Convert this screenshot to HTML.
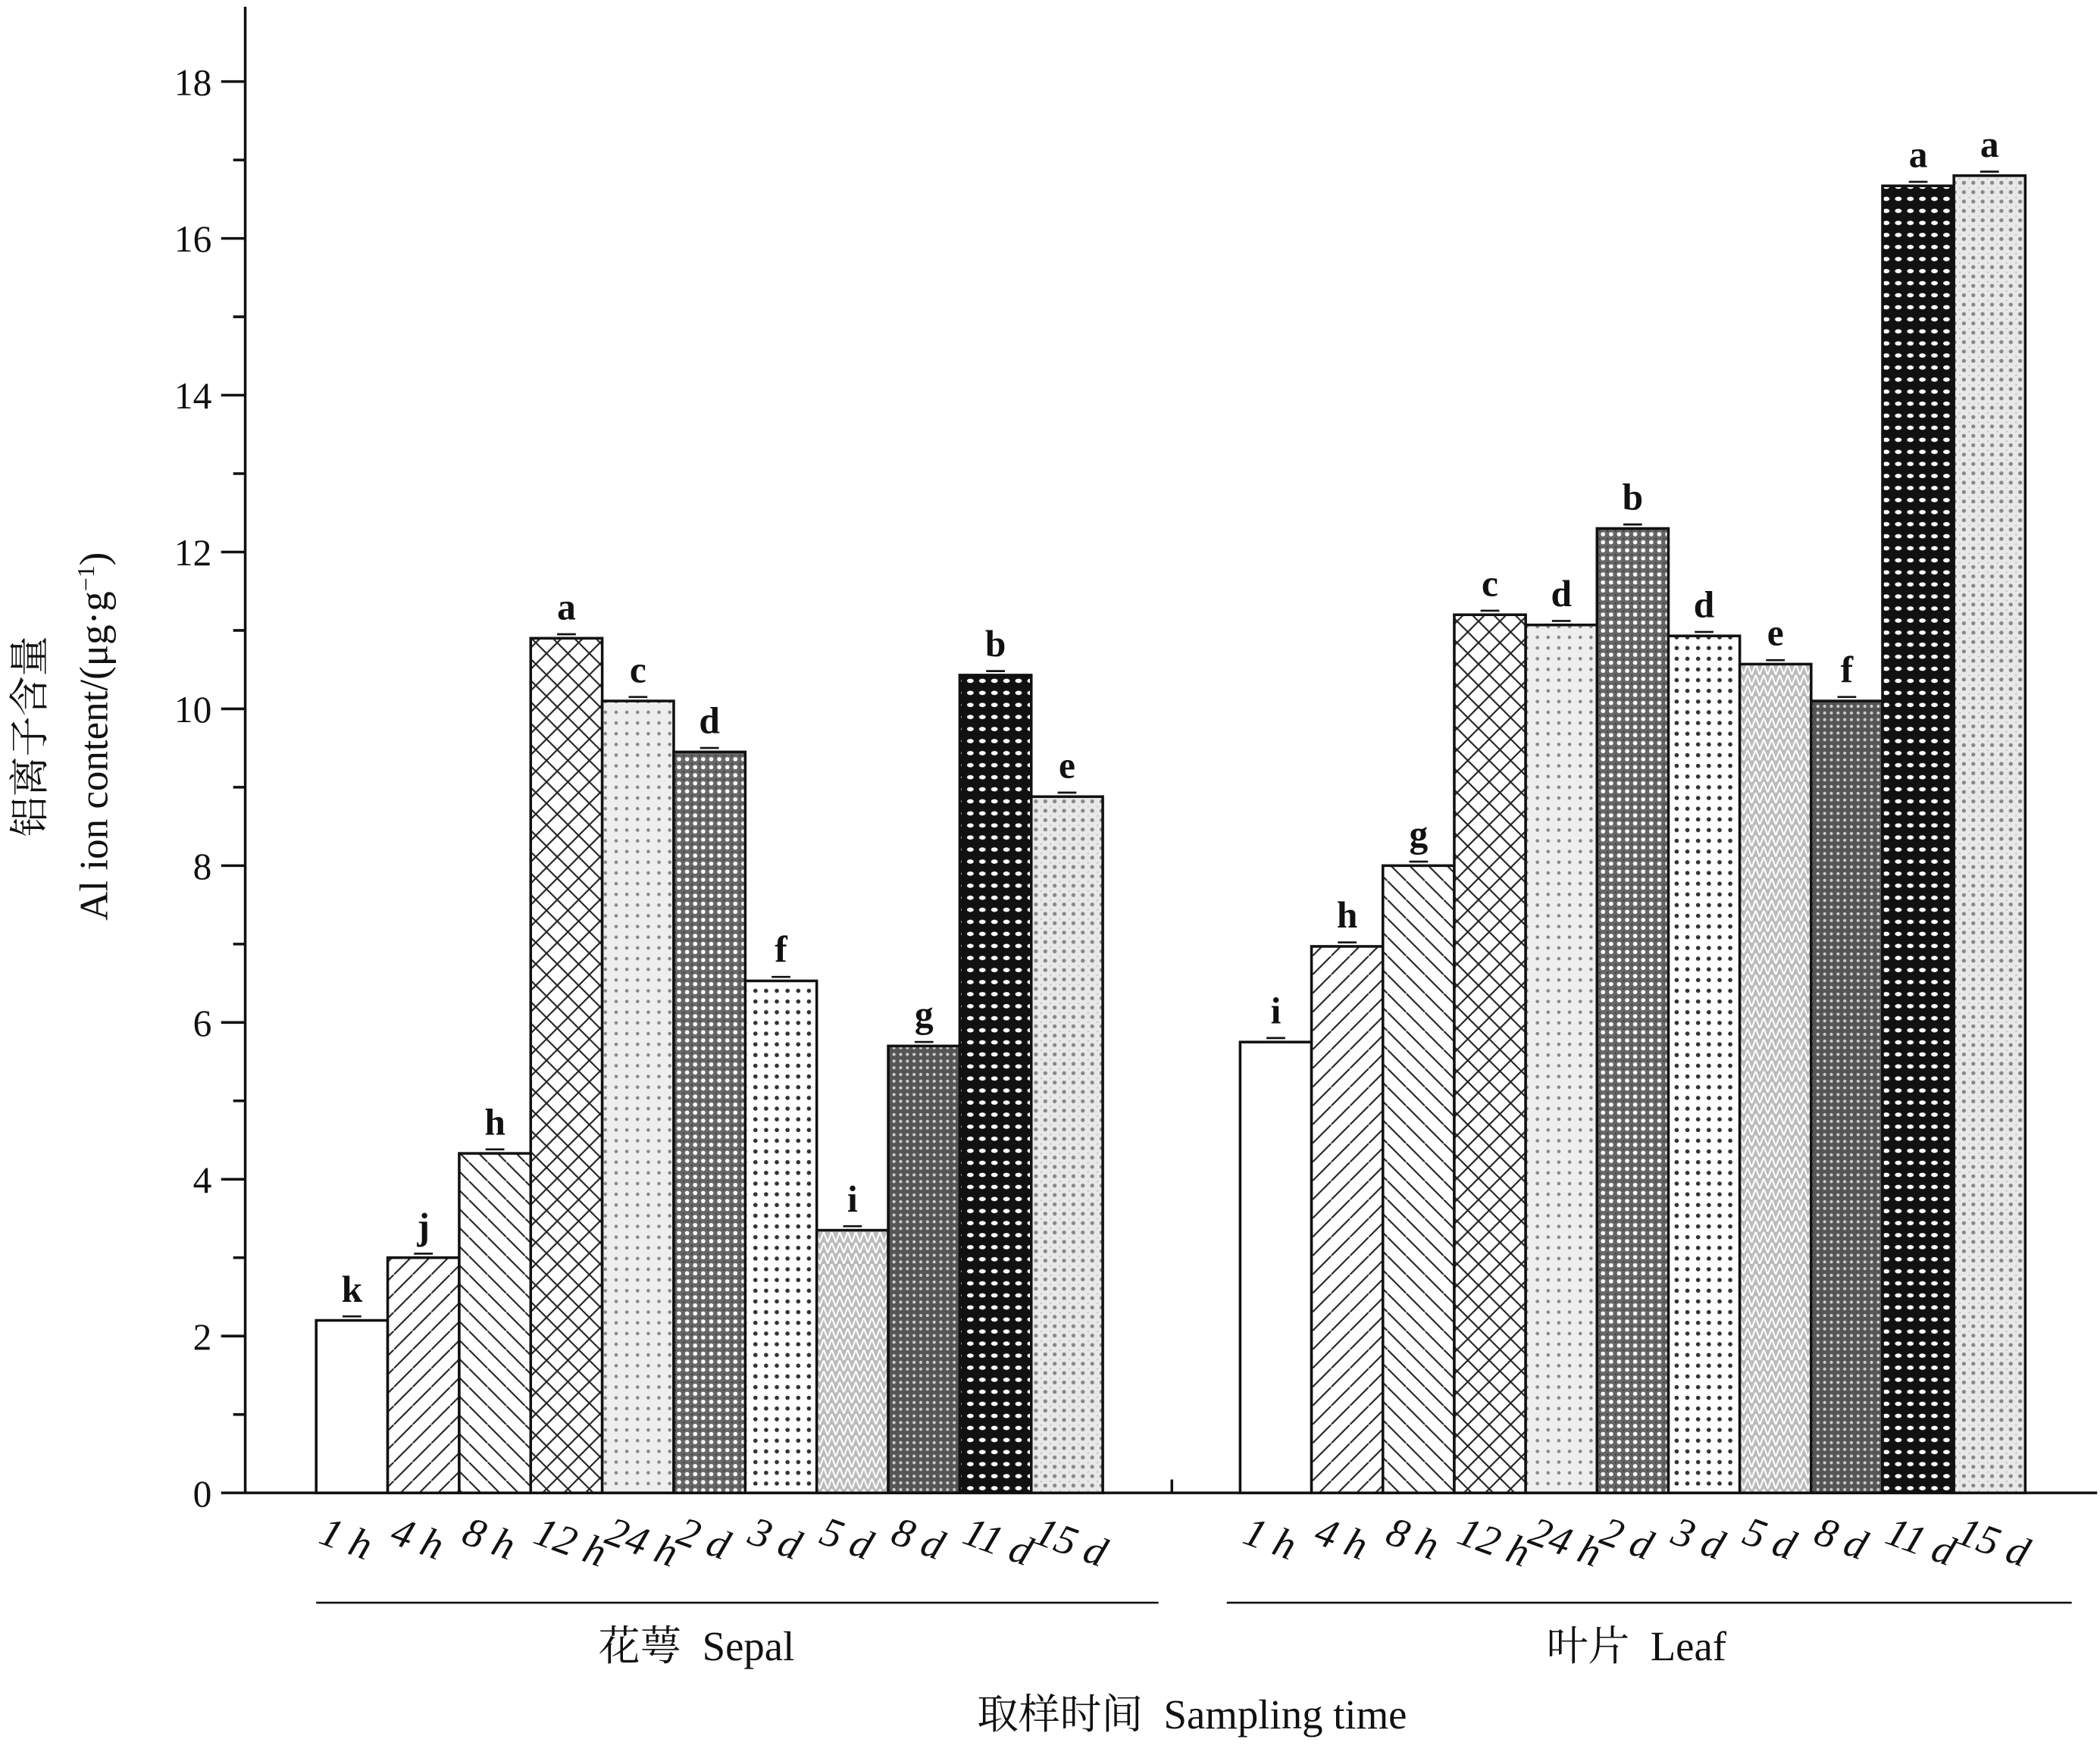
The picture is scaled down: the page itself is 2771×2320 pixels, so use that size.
<!DOCTYPE html>
<html><head><meta charset="utf-8"><style>
html,body{margin:0;padding:0;background:#fff;}
svg{display:block}
text{font-family:"Liberation Serif","Noto Serif CJK SC",serif;fill:#111}
</style></head><body>
<svg width="2771" height="2320" viewBox="0 0 1568 1313" xmlns="http://www.w3.org/2000/svg">
<defs>
<pattern id="p1" width="14" height="14" patternUnits="userSpaceOnUse"><rect width="14" height="14" fill="#fff"/><path d="M-2,16 L16,-2" stroke="#222" stroke-width="1.2"/></pattern>
<pattern id="p2" width="14" height="14" patternUnits="userSpaceOnUse"><rect width="14" height="14" fill="#fff"/><path d="M-2,-2 L16,16" stroke="#222" stroke-width="1.2"/></pattern>
<pattern id="p3" width="16" height="16" patternUnits="userSpaceOnUse"><rect width="16" height="16" fill="#fff"/><path d="M0,0 L16,16 M16,0 L0,16" stroke="#222" stroke-width="1.2"/></pattern>
<pattern id="p4" width="8" height="8" patternUnits="userSpaceOnUse"><rect width="8" height="8" fill="#eee"/><circle cx="4" cy="4" r="1.3" fill="#888"/></pattern>
<pattern id="p5" width="6" height="6" patternUnits="userSpaceOnUse"><rect width="6" height="6" fill="#666"/><circle cx="3" cy="3" r="1.6" fill="#fff"/><circle cx="0" cy="0" r="1" fill="#222"/></pattern>
<pattern id="p6" width="8" height="8" patternUnits="userSpaceOnUse"><rect width="8" height="8" fill="#fff"/><circle cx="4" cy="4" r="1.6" fill="#333"/></pattern>
<pattern id="p7" width="6" height="8" patternUnits="userSpaceOnUse"><rect width="6" height="8" fill="#bbb"/><path d="M0,8 L3,0 L6,8" stroke="#fff" stroke-width="1.2" fill="none"/></pattern>
<pattern id="p8" width="5" height="5" patternUnits="userSpaceOnUse"><rect width="5" height="5" fill="#555"/><circle cx="2.5" cy="2.5" r="1.2" fill="#ccc"/></pattern>
<pattern id="p9" width="9" height="9" patternUnits="userSpaceOnUse"><rect width="9" height="9" fill="#111"/><ellipse cx="4.5" cy="4.5" rx="2.5" ry="1.6" fill="#fff"/></pattern>
<pattern id="p10" width="7" height="7" patternUnits="userSpaceOnUse"><rect width="7" height="7" fill="#e8e8e8"/><circle cx="3.5" cy="3.5" r="1.5" fill="#888"/><circle cx="0" cy="0" r="1" fill="#aaa"/></pattern>
</defs>
<g stroke="#111" stroke-width="2">
<line x1="183" y1="5" x2="183" y2="1115"/>
<line x1="183" y1="1115" x2="1566" y2="1115"/>
<line x1="875" y1="1115" x2="875" y2="1105"/>
<line x1="528" y1="1115" x2="528" y2="1105"/>
<line x1="1218" y1="1115" x2="1218" y2="1105"/>
<line x1="236" y1="1197" x2="865" y2="1197" stroke-width="1.5"/>
<line x1="916" y1="1197" x2="1547" y2="1197" stroke-width="1.5"/>
</g>
<g id="ticks" stroke="#111" stroke-width="2"></g>
<g id="bars"></g>
<text x="520" y="1240" font-size="31" text-anchor="middle">花萼&#160;&#160;Sepal</text>
<text x="1222" y="1240" font-size="31" text-anchor="middle">叶片&#160;&#160;Leaf</text>
<text x="890" y="1291" font-size="31" text-anchor="middle">取样时间&#160;&#160;Sampling time</text>
<text transform="translate(32,550) rotate(-90)" font-size="30" text-anchor="middle">铝离子含量</text>
<text transform="translate(80,550) rotate(-90)" font-size="30" text-anchor="middle">Al ion content/(μg·g<tspan dy="-10" font-size="18">−1</tspan><tspan dy="10">)</tspan></text>
<script>
var ns="http://www.w3.org/2000/svg";
function el(t,a,txt,p){var e=document.createElementNS(ns,t);for(var k in a)e.setAttribute(k,a[k]);if(txt)e.textContent=txt;(p||document.querySelector('svg')).appendChild(e);return e;}
var Y=function(v){return 1115-v*58.56;};
var tg=document.getElementById('ticks');
for(var v=0;v<=18;v+=2){el('line',{x1:165,x2:183,y1:Y(v),y2:Y(v)},null,tg);el('text',{x:158,y:Y(v)+10,'font-size':28,'text-anchor':'end'},String(v));}
for(var v=1;v<=17;v+=2){el('line',{x1:174,x2:183,y1:Y(v),y2:Y(v)},null,tg);}
var labels=["1 h","4 h","8 h","12 h","24 h","2 d","3 d","5 d","8 d","11 d","15 d"];
var pats=["#fff","url(#p1)","url(#p2)","url(#p3)","url(#p4)","url(#p5)","url(#p6)","url(#p7)","url(#p8)","url(#p9)","url(#p10)"];
var s=[2.2,3.0,4.33,10.9,10.1,9.45,6.53,3.35,5.7,10.43,8.88],sl="kjhacdfigbe";
var l=[5.75,6.97,8.0,11.2,11.07,12.3,10.93,10.57,10.1,16.67,16.8],ll="ihgcdbdefaa";
var bg=document.getElementById('bars');
function grp(x0,w,vals,lets){for(var i=0;i<11;i++){var x=x0+i*w,y=Y(vals[i]);
el('rect',{x:x,y:y,width:w,height:1115-y,fill:pats[i],stroke:'#111','stroke-width':2},null,bg);
el('line',{x1:x+w/2-7,x2:x+w/2+7,y1:y-3,y2:y-3,stroke:'#111','stroke-width':1.5},null,bg);
el('text',{x:x+w/2,y:y-14,'font-size':28,'font-weight':'bold','text-anchor':'middle'},lets[i]);
el('text',{transform:'translate('+(x+w/2-26)+',1152) rotate(20)','font-size':31,'font-style':'italic','font-family':'Liberation Serif, serif'},labels[i]);}}
grp(236,53.4,s,sl);grp(926,53.3,l,ll);
</script>
</svg>
</body></html>
